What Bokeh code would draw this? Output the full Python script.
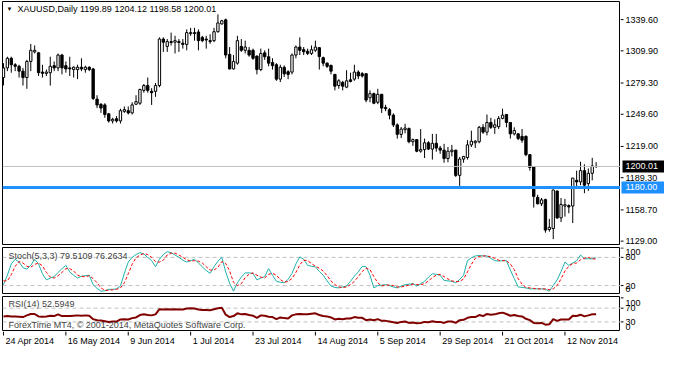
from bokeh.plotting import figure
from bokeh.layouts import column, row
from bokeh.models import Range1d, Span, Label, ColumnDataSource
from bokeh.core.properties import value
from bokeh.embed import file_html
from bokeh.resources import INLINE

# ---------------- data (XAUUSD daily, 24 Apr 2014 .. 24 Nov 2014) ----------------
opens = [1284.5,1293.7,1302.8,1296.7,1295.2,1290.6,1284.5,1299.8,1308.9,1308.0,
         1289.7,1288.5,1289.1,1295.8,1293.7,1305.9,1295.8,1293.7,1292.1,1292.1,
         1294.3,1292.1,1294.3,1292.7,1264.0,1259.1,1258.5,1250.0,1243.3,1245.4,
         1243.3,1252.4,1253.0,1250.9,1259.1,1260.1,1272.3,1276.9,1271.4,1271.4,
         1276.9,1321.1,1314.1,1318.7,1318.1,1318.7,1317.2,1316.0,1326.3,1327.2,
         1327.8,1322.7,1321.1,1319.6,1319.6,1328.1,1335.5,1339.4,1306.5,1292.7,
         1298.2,1314.1,1310.4,1310.4,1310.4,1304.9,1292.1,1308.0,1304.3,1298.8,
         1296.7,1283.0,1294.3,1290.0,1289.7,1305.9,1313.5,1311.0,1309.5,1307.4,
         1310.5,1312.9,1303.4,1298.2,1296.1,1287.5,1276.9,1279.9,1275.4,1282.4,
         1283.0,1289.7,1288.2,1288.2,1265.3,1269.2,1261.0,1268.6,1256.1,1254.0,
         1248.8,1239.5,1230.5,1235.0,1236.0,1223.5,1225.5,1214.5,1216.0,1222.5,
         1216.5,1222.0,1217.5,1215.5,1207.5,1214.0,1215.5,1191.5,1207.0,1208.5,
         1220.5,1222.5,1223.5,1237.2,1232.6,1241.8,1237.2,1237.8,1245.7,1249.4,
         1241.8,1231.0,1231.0,1228.6,1228.6,1211.2,1199.9,1170.6,1164.5,1168.5,
         1140.0,1141.0,1176.7,1151.1,1162.4,1162.7,1162.4,1186.8,1185.3,1196.0,
         1183.7,1193.5,1199.89]
highs = [1298.2,1304.3,1304.3,1298.2,1296.7,1293.7,1301.3,1316.5,1315.0,1308.9,
         1296.7,1292.1,1304.3,1299.8,1307.4,1307.0,1299.8,1304.3,1295.2,1296.7,
         1302.8,1295.8,1295.2,1293.7,1267.7,1260.1,1260.1,1250.9,1246.3,1247.9,
         1254.9,1257.0,1257.0,1261.0,1267.7,1273.8,1278.4,1284.5,1274.4,1279.3,
         1322.7,1322.7,1321.1,1327.2,1324.2,1321.1,1321.1,1330.3,1331.8,1331.8,
         1330.3,1324.2,1324.2,1325.7,1331.8,1344.6,1339.4,1340.5,1313.5,1305.9,
         1324.2,1321.1,1319.6,1313.5,1312.0,1305.5,1312.0,1310.4,1312.0,1302.8,
         1298.2,1296.7,1296.0,1291.5,1307.4,1315.0,1322.7,1313.5,1312.0,1315.0,
         1319.6,1313.5,1304.4,1298.9,1296.7,1288.0,1283.0,1281.4,1291.5,1289.1,
         1296.7,1291.5,1289.7,1288.2,1272.3,1270.2,1273.8,1268.6,1258.6,1255.5,
         1250.5,1241.0,1237.5,1240.5,1237.0,1226.5,1226.0,1235.5,1226.5,1224.0,
         1231.0,1231.0,1219.5,1221.5,1218.5,1220.5,1215.8,1209.0,1210.0,1225.0,
         1234.0,1225.0,1238.5,1240.2,1249.4,1246.3,1244.8,1247.9,1254.9,1249.9,
         1242.0,1237.2,1231.7,1235.6,1229.5,1211.5,1200.2,1173.1,1170.0,1169.4,
         1150.2,1177.9,1176.9,1170.0,1169.1,1164.0,1189.2,1196.0,1204.5,1202.0,
         1198.1,1208.2,1204.12]
lows = [1277.0,1290.6,1289.1,1290.6,1284.5,1276.9,1273.8,1290.6,1307.4,1286.0,
        1284.5,1286.0,1276.9,1290.6,1290.6,1287.5,1289.1,1286.0,1284.5,1283.0,
        1290.6,1289.1,1290.6,1263.1,1255.5,1250.9,1246.3,1241.7,1240.8,1241.7,
        1240.8,1250.9,1249.4,1249.4,1258.5,1258.5,1270.1,1270.1,1258.5,1266.2,
        1275.3,1308.9,1308.9,1315.0,1307.4,1308.9,1312.0,1310.4,1324.2,1319.6,
        1310.4,1318.1,1312.0,1316.5,1318.1,1327.2,1334.9,1302.8,1292.1,1292.1,
        1296.7,1308.9,1307.4,1304.3,1301.3,1287.5,1290.6,1301.3,1295.2,1292.1,
        1281.4,1280.2,1285.0,1283.0,1287.5,1302.8,1305.9,1305.9,1305.9,1305.9,
        1308.9,1292.1,1295.2,1293.7,1287.5,1272.3,1273.8,1272.3,1274.4,1279.9,
        1281.4,1283.0,1284.5,1261.0,1261.0,1259.2,1259.2,1250.9,1252.5,1244.8,
        1237.5,1226.5,1227.0,1231.5,1222.0,1219.5,1213.5,1213.0,1208.0,1215.5,
        1206.5,1214.0,1212.0,1203.5,1204.0,1209.5,1190.0,1181.5,1203.5,1206.5,
        1218.5,1217.5,1222.0,1231.0,1229.5,1235.6,1231.0,1235.6,1244.8,1237.2,
        1226.5,1229.5,1225.0,1222.5,1209.7,1196.0,1160.9,1163.9,1162.4,1137.0,
        1138.0,1130.9,1150.2,1147.1,1152.3,1155.5,1146.2,1179.2,1182.2,1174.6,
        1176.7,1186.8,1198.58]
closes = [1293.7,1302.8,1296.7,1295.2,1290.6,1284.5,1299.8,1310.4,1310.4,1289.1,
          1288.5,1289.7,1295.2,1293.7,1305.9,1293.7,1292.7,1292.7,1294.3,1294.3,
          1292.7,1294.3,1292.1,1264.6,1258.5,1255.5,1249.4,1243.3,1244.8,1243.3,
          1253.0,1254.0,1250.9,1258.5,1261.6,1273.2,1276.9,1272.3,1270.1,1276.9,
          1321.1,1318.1,1318.7,1317.8,1319.6,1317.8,1316.0,1327.2,1327.2,1326.3,
          1319.6,1319.6,1320.2,1318.7,1328.1,1336.4,1338.5,1305.9,1292.7,1299.8,
          1319.6,1310.4,1313.5,1305.9,1302.8,1292.1,1307.4,1304.3,1298.2,1295.8,
          1283.0,1294.3,1288.0,1287.5,1305.9,1313.5,1310.4,1309.0,1307.4,1311.0,
          1313.5,1304.4,1298.2,1295.2,1290.6,1276.3,1281.4,1276.3,1281.4,1280.8,
          1289.7,1286.0,1286.0,1263.1,1269.2,1260.1,1268.6,1255.5,1254.9,1248.8,
          1239.5,1230.5,1235.5,1236.5,1223.5,1225.5,1214.5,1216.0,1222.5,1216.5,
          1222.0,1217.5,1215.5,1207.5,1214.5,1215.5,1191.5,1207.0,1209.5,1220.5,
          1224.0,1224.0,1237.2,1232.6,1241.8,1237.2,1239.6,1245.7,1248.8,1241.8,
          1231.0,1234.1,1226.5,1225.0,1211.2,1199.0,1171.5,1164.5,1168.2,1139.5,
          1142.1,1177.6,1151.1,1163.9,1163.6,1161.5,1188.9,1185.3,1196.0,1182.2,
          1193.5,1200.5,1200.01]

stoch_main = [22,42,66,76,70,58,55,63,76,66,45,32,36,39,48,56,63,49,42,36,
              40,41,42,22,14,8,9,12,12,13,19,46,70,80,86,90,87,80,73,60,
              76,86,92,90,85,80,74,70,73,76,68,60,52,46,60,72,80,49,25,8,
              26,38,47,47,46,32,36,39,56,42,29,27,26,33,46,66,81,76,63,61,
              60,50,42,30,19,16,15,17,19,29,40,49,61,60,42,15,20,21,22,20,
              17,15,19,22,23,24,19,24,29,38,45,44,42,31,30,29,26,33,42,73,
              79,83,84,83,83,78,73,72,73,73,53,35,17,16,15,13,13,13,13,12,
              8,20,32,50,70,63,68,73,85,77,77,77,79.5109]
stoch_signal = [30,30,43,61,71,68,61,59,65,68,62,48,38,36,41,48,56,56,51,42,
                39,39,41,35,26,15,10,10,11,12,15,26,45,65,79,85,88,86,80,71,
                70,74,85,89,89,85,80,75,72,73,72,68,60,53,53,59,71,67,51,27,
                20,24,37,44,47,42,38,36,44,46,42,33,27,29,35,48,64,74,73,67,
                61,57,51,41,30,22,17,16,17,22,29,39,50,57,54,39,26,19,21,21,
                20,17,17,19,21,23,22,22,24,30,37,42,44,39,34,30,28,29,34,49,
                65,78,82,83,83,81,78,74,73,73,66,54,35,23,16,15,14,13,13,13,
                11,13,20,34,51,61,67,68,75,78,80,77,76.2634]
rsi14 = [46,47,46,46,45,44,49,53,53,46,45,46,48,47,52,47,47,47,48,49,
         48,49,48,38,35,34,32,30,31,31,37,38,37,41,43,50,52,50,49,52,
         67,66,67,66,67,66,66,69,70,69,66,65,65,64,67,70,71,51,44,47,
         55,52,53,50,48,42,49,48,45,44,38,43,41,40,49,52,53,52,52,54,
         55,50,47,46,43,37,39,38,40,40,44,42,42,35,37,35,38,33,33,31,
         29,27,30,31,27,28,26,27,30,29,32,30,30,27,31,31,27,35,36,42,
         44,44,50,47,53,51,52,55,57,53,48,50,47,46,39,35,27,26,27,22,
         23,38,33,37,37,37,48,47,51,46,49,52.5,52.5949]

date_ticks = [0, 16, 32, 48, 64, 80, 96, 112, 128, 144]
date_labels = ["24 Apr 2014", "16 May 2014", "9 Jun 2014", "1 Jul 2014", "23 Jul 2014",
               "14 Aug 2014", "5 Sep 2014", "29 Sep 2014", "21 Oct 2014", "12 Nov 2014"]
price_ticks = [1129.00, 1158.70, 1189.30, 1219.00, 1249.60, 1279.30, 1309.90, 1339.60]
stoch_levels = [20, 80]
rsi_levels = [30, 70]
bid_price = 1200.01
hline_price = 1180.00

# ---------------- layout constants ----------------
LB = 2          # left border
FW = 618        # plot frame width
AW = 44         # width of the right-hand price scale column
FONT = "Liberation Sans"
FS = "9px"

n = len(closes)
xs = list(range(n))
xr = Range1d(-0.25, 158.25)
axr = Range1d(0, AW)

src = ColumnDataSource(dict(
    x=xs,
    high=highs, low=lows,
    top=[max(o, c) for o, c in zip(opens, closes)],
    bottom=[min(o, c) for o, c in zip(opens, closes)],
    fill=["white" if c >= o else "black" for o, c in zip(opens, closes)],
))


def pane(height, yr, top_border, bottom_border):
    p = figure(width=LB + FW, height=height, x_range=xr, y_range=yr,
               x_axis_location=None, y_axis_location=None,
               toolbar_location=None, output_backend="svg")
    p.grid.visible = False
    p.outline_line_color = "black"
    p.outline_line_width = 1
    p.background_fill_color = "white"
    p.border_fill_color = "white"
    p.min_border_left = LB
    p.min_border_right = 0
    p.min_border_top = top_border
    p.min_border_bottom = bottom_border
    a = figure(width=AW, height=height, x_range=axr, y_range=yr,
               x_axis_location=None, y_axis_location=None,
               toolbar_location=None, output_backend="svg")
    a.grid.visible = False
    a.outline_line_color = None
    a.background_fill_color = "white"
    a.border_fill_color = "white"
    a.min_border_left = 0
    a.min_border_right = 0
    a.min_border_top = top_border
    a.min_border_bottom = bottom_border
    return p, a


def scale_labels(a, ticks, labels, y_offsets=None):
    a.segment(x0=[0] * len(ticks), y0=ticks, x1=[3] * len(ticks), y1=ticks,
              line_color="black", line_width=1)
    a.text(x=[5] * len(ticks), y=ticks, text=labels,
           y_offset=y_offsets if y_offsets is not None else 0,
           text_font=value(FONT), text_font_size=value(FS),
           text_baseline="middle", text_align="left", text_color="black")


# ---------------- main price pane ----------------
p1, a1 = pane(245, Range1d(1125.8, 1356.8), 1, 1)
FH1 = 243
p1.segment(x0="x", y0="low", x1="x", y1="high", source=src, line_color="black", line_width=1)
p1.vbar(x="x", width=0.6, top="top", bottom="bottom", source=src,
        fill_color="fill", line_color="black", line_width=1)
p1.add_layout(Span(location=bid_price, dimension="width", line_color="#C0C0C0", line_width=1))
p1.add_layout(Span(location=hline_price, dimension="width", line_color="#1E90FF", line_width=3))
p1.add_layout(Label(x=4, y=FH1 - 7, x_units="screen", y_units="screen", text="\u25bc",
                    text_font=FONT, text_font_size="6px", text_baseline="middle",
                    text_color="black"))
p1.add_layout(Label(x=15, y=FH1 - 7, x_units="screen", y_units="screen",
                    text="XAUUSD,Daily  %.2f %.2f %.2f %.2f" % (opens[-1], highs[-1], lows[-1], closes[-1]),
                    text_font=FONT, text_font_size=FS, text_baseline="middle",
                    text_color="black"))

scale_labels(a1, price_ticks, ["%.2f" % t for t in price_ticks])
a1.rect(x=[AW / 2 + 1], y=[bid_price], width=AW - 2, height=12,
        width_units="screen", height_units="screen", fill_color="black", line_color=None)
a1.rect(x=[AW / 2 + 0.5], y=[hline_price], width=AW - 1, height=12,
        width_units="screen", height_units="screen", fill_color="#1E90FF", line_color=None)
a1.text(x=[5, 5], y=[bid_price, hline_price], text=["%.2f" % bid_price, "%.2f" % hline_price],
        text_font=value(FONT), text_font_size=value(FS), text_baseline="middle",
        text_align="left", text_color="white")

# ---------------- stochastic pane ----------------
p2, a2 = pane(49, Range1d(1.0, 101.0), 2, 0)
FH2 = 47
for lv in stoch_levels:
    p2.add_layout(Span(location=lv, dimension="width", line_color="#C0C0C0",
                       line_dash="4 3", line_width=1, level="underlay"))
p2.line(xs, stoch_main, line_color="#20B2AA", line_width=1)
p2.line(xs, stoch_signal, line_color="red", line_width=1, line_dash="3 2")
p2.add_layout(Label(x=6, y=FH2 - 8, x_units="screen", y_units="screen",
                    text="Stoch(5,3,3) %.4f %.4f" % (stoch_main[-1], stoch_signal[-1]),
                    text_font=FONT, text_font_size=FS, text_baseline="middle"))
scale_labels(a2, [100, 80, 20, 0], ["100", "80", "20", "0"], [4, 0, 0, -6])

# ---------------- RSI pane ----------------
p3, a3 = pane(37, Range1d(2.0, 104.0), 2, 0)
FH3 = 35
for lv in rsi_levels:
    p3.add_layout(Span(location=lv, dimension="width", line_color="#C0C0C0",
                       line_dash="4 3", line_width=1, level="underlay"))
p3.line(xs, rsi14, line_color="#800000", line_width=2)
p3.add_layout(Label(x=6, y=FH3 - 7, x_units="screen", y_units="screen",
                    text="RSI(14) %.4f" % rsi14[-1],
                    text_font=FONT, text_font_size=FS, text_baseline="middle"))
p3.add_layout(Label(x=6, y=7, x_units="screen", y_units="screen",
                    text="ForexTime MT4, \u00a9 2001-2014, MetaQuotes Software Corp.",
                    text_font=FONT, text_font_size=FS, text_baseline="middle"))
scale_labels(a3, [100, 70, 30, 0], ["100", "70", "30", "0"], [5, 0, 0, -5])

# ---------------- date scale ----------------
pd_ = figure(width=LB + FW + AW, height=18, x_range=xr, y_range=Range1d(0, 18),
             x_axis_location=None, y_axis_location=None,
             toolbar_location=None, output_backend="svg")
pd_.grid.visible = False
pd_.outline_line_color = None
pd_.border_fill_color = "white"
pd_.min_border_left = LB
pd_.min_border_right = AW
pd_.min_border_top = 0
pd_.min_border_bottom = 0
pd_.segment(x0=date_ticks, y0=[18] * len(date_ticks), x1=date_ticks, y1=[14] * len(date_ticks),
            line_color="black", line_width=1)
pd_.text(x=date_ticks, y=[9] * len(date_ticks), text=date_labels, x_offset=2,
         text_font=value(FONT), text_font_size=value(FS), text_baseline="middle",
         text_align="left", text_color="black")

layout = column(row(p1, a1, spacing=0), row(p2, a2, spacing=0),
                row(p3, a3, spacing=0), pd_, spacing=0)
open("out.html", "w").write(file_html(layout, INLINE))
